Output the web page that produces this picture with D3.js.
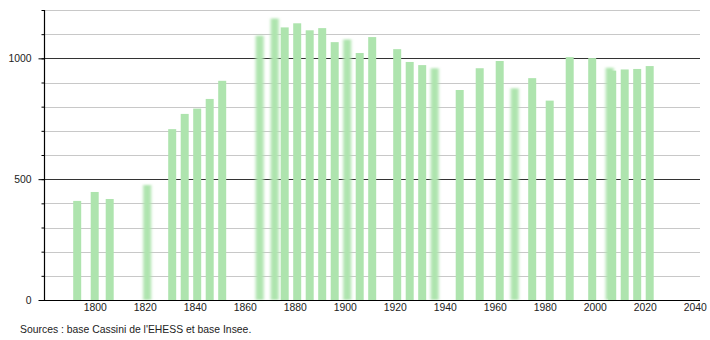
<!DOCTYPE html>
<html lang="fr">
  <head>
    <meta charset="UTF-8" />
    <title>Population</title>
    <script src="https://d3js.org/d3.v7.min.js"></script>
    <style>
      body { margin: 0; background: #fff; }
      svg text { font-family: "Liberation Sans", Arial, sans-serif; font-size: 10.4px; fill: #222; }
    </style>
  </head>
  <body>
    <svg id="chart" width="710" height="340"></svg>
    <script>
      // census years and population
      const years = [1793, 1800, 1806, 1821, 1831, 1836, 1841, 1846, 1851, 1866, 1872, 1876,
        1881, 1886, 1891, 1896, 1901, 1906, 1911, 1921, 1926, 1931, 1936, 1946, 1954, 1962,
        1968, 1975, 1982, 1990, 1999, 2006, 2007, 2012, 2017, 2022];
      const population = [410, 447, 418, 476, 707, 770, 792, 832, 907, 1094, 1165, 1128,
        1145, 1116, 1125, 1067, 1078, 1022, 1088, 1038, 985, 972, 959, 869, 959, 989,
        876, 918, 825, 1005, 1001, 961, 949, 954, 956, 968];
      // bars drawn with a soft edge
      const softYears = [1821, 1866, 1872, 1901, 1936, 1968, 2006];
      const xTicks = d3.range(1800, 2041, 20);
      const yLabels = [0, 500, 1000];
      const source = "Sources : base Cassini de l'EHESS et base Insee.";

      const data = years.map((yr, i) => ({ year: yr, value: population[i] }));

      const svg = d3.select("#chart");
      const plotLeft = 44, plotRight = 700, plotTop = 10, plotBottom = 300;

      const x = d3.scaleLinear().domain([1780, 2040]).range([44.7, 694.7]);
      const y = d3.scaleLinear().domain([0, 1200]).range([plotBottom, plotTop]);

      const defs = svg.append("defs");
      defs.append("filter")
        .attr("id", "soft")
        .attr("x", "-50%").attr("width", "200%")
        .attr("y", "-5%").attr("height", "110%")
        .append("feGaussianBlur")
        .attr("stdDeviation", "1.6 0.8");

      // grid
      svg.append("g")
        .selectAll("line")
        .data(d3.range(100, 1201, 100))
        .join("line")
        .attr("x1", plotLeft)
        .attr("x2", plotRight)
        .attr("y1", (d) => Math.round(y(d)) + 0.5)
        .attr("y2", (d) => Math.round(y(d)) + 0.5)
        .attr("stroke", (d) => (d % 500 === 0 ? "#333" : "#c8c8c8"))
        .attr("stroke-width", 1);

      // bars
      svg.append("g")
        .selectAll("rect")
        .data(data)
        .join("rect")
        .attr("x", (d) => x(d.year) - 4)
        .attr("width", 8)
        .attr("y", (d) => y(d.value))
        .attr("height", (d) => plotBottom - y(d.value))
        .attr("fill", "#aee4ae")
        .attr("filter", (d) => (softYears.includes(d.year) ? "url(#soft)" : null));

      // y axis: minor then labelled ticks
      svg.append("g")
        .attr("transform", `translate(${plotLeft + 0.5},0)`)
        .call(d3.axisLeft(y).tickValues(d3.range(0, 1201, 100)).tickSize(3).tickFormat(""))
        .call((g) => g.select(".domain").remove())
        .call((g) => g.selectAll("line").attr("stroke", "#000"));

      svg.append("g")
        .attr("transform", `translate(${plotLeft + 0.5},0)`)
        .call(d3.axisLeft(y).tickValues(yLabels).tickSize(6).tickPadding(7).tickFormat(d3.format("d")))
        .call((g) => g.select(".domain").remove())
        .call((g) => g.selectAll("line").attr("stroke", "#000"))
        .call((g) => g.selectAll("text").attr("font-family", null).attr("font-size", null));

      // x axis labels
      svg.append("g")
        .attr("transform", `translate(0,${plotBottom})`)
        .call(d3.axisBottom(x).tickValues(xTicks).tickSize(0).tickPadding(4).tickFormat(d3.format("d")))
        .call((g) => g.select(".domain").remove())
        .call((g) => g.selectAll("text").attr("font-family", null).attr("font-size", null));

      // axis lines
      svg.append("line")
        .attr("x1", plotLeft + 0.5).attr("x2", plotLeft + 0.5)
        .attr("y1", plotTop).attr("y2", plotBottom + 1)
        .attr("stroke", "#000").attr("stroke-width", 1.2);
      svg.append("line")
        .attr("x1", plotLeft).attr("x2", plotRight)
        .attr("y1", plotBottom + 0.5).attr("y2", plotBottom + 0.5)
        .attr("stroke", "#000").attr("stroke-width", 1.2);

      svg.append("text")
        .attr("x", 20)
        .attr("y", 333)
        .text(source);
    </script>
  </body>
</html>
